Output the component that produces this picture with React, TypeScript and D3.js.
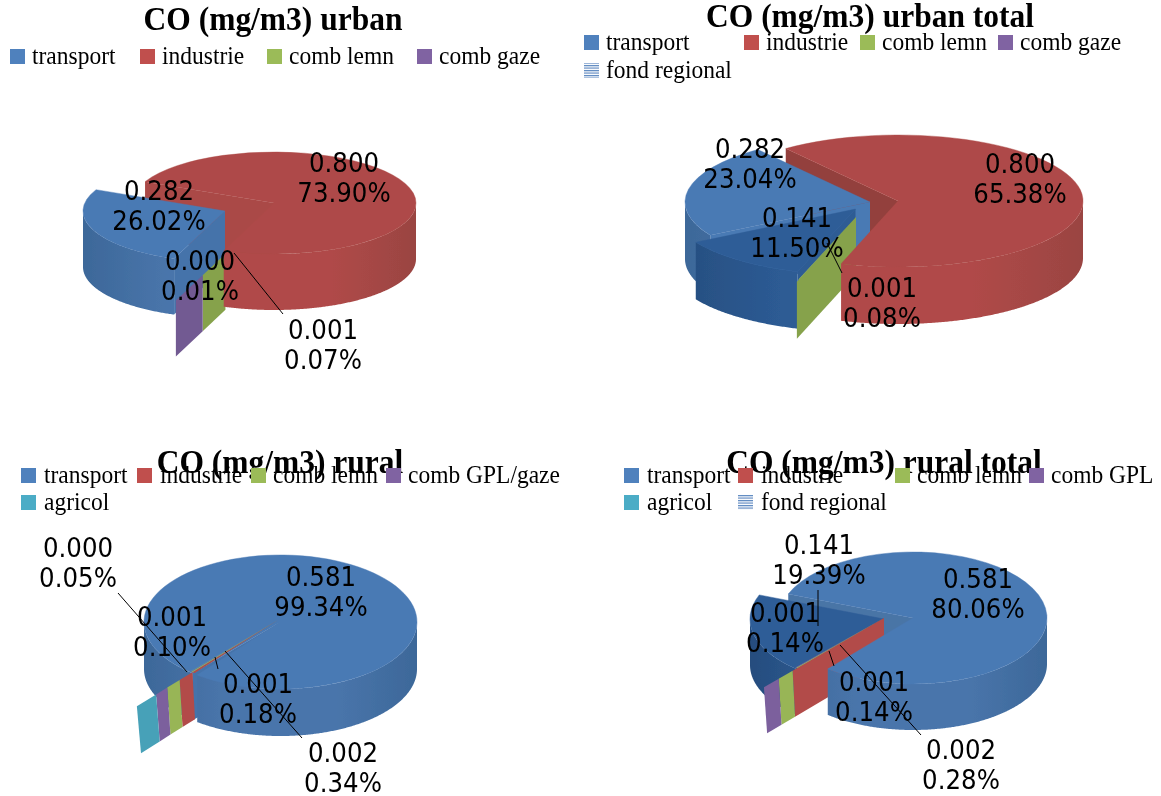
import * as d3 from 'd3';

// values, in pie order
const urbanNames = ['transport', 'industrie', 'comb lemn', 'comb gaze'];
const urbanValues = [0.282, 0.8, 0.0007, 0.0001];
const urbanPercents = ['26.02%', '73.90%', '0.07%', '0.01%'];

const urbanTotalNames = ['transport', 'industrie', 'comb lemn', 'comb gaze', 'fond regional'];
const urbanTotalValues = [0.282, 0.8, 0.001, 0.00004, 0.141];
const urbanTotalPercents = ['23.04%', '65.38%', '0.08%', '', '11.50%'];

const ruralNames = ['transport', 'industrie', 'comb lemn', 'comb GPL/gaze', 'agricol'];
const ruralValues = [0.581, 0.002, 0.001, 0.0006, 0.0003];
const ruralPercents = ['99.34%', '0.34%', '0.18%', '0.10%', '0.05%'];

const ruralTotalNames = ['transport', 'industrie', 'comb lemn', 'comb GPL', 'agricol', 'fond regional'];
const ruralTotalValues = [0.581, 0.002, 0.001, 0.001, 0, 0.141];
const ruralTotalPercents = ['80.06%', '0.28%', '0.14%', '0.14%', '', '19.39%'];

const W = 1161;
const H = 796;

// colours per series
const seriesKeys = ['transport', 'industrie', 'lemn', 'gaze', 'agricol', 'fond'];
const keyOf = (name: string) => {
  if (name === 'transport') return 'transport';
  if (name === 'industrie') return 'industrie';
  if (name === 'comb lemn') return 'lemn';
  if (name.startsWith('comb')) return 'gaze';
  if (name === 'agricol') return 'agricol';
  return 'fond';
};
const legendColor = d3.scaleOrdinal(seriesKeys, ['#4f81bd', '#c0504d', '#9bbb59', '#8064a2', '#4bacc6', '#4f81bd']);
const topColor = d3.scaleOrdinal(seriesKeys, ['#4a7ab4', '#ae4a48', '#86a24c', '#725a92', '#4197ad', '#2e5d97']);
const stripColor = d3.scaleOrdinal(seriesKeys, ['#4a7ab4', '#b24c49', '#98b557', '#7b619d', '#46a1b8', '#2e5d97']);
const wallColor = d3.scaleOrdinal(seriesKeys, ['#4975ab', '#b04a48', '#86a24c', '#725a92', '#4197ad', '#2d5b94']);
const edgeColor = d3.scaleOrdinal(seriesKeys, ['#3d6899', '#9a4442', '#6f8a3f', '#5f4a7c', '#357f92', '#264d7e']);
const radialColor = d3.scaleOrdinal(seriesKeys, ['#4473aa', '#933f3d', '#86a24c', '#725a92', '#4197ad', '#2d5b94']);

const rad = (deg: number) => (deg * Math.PI) / 180;
const deg = (r: number) => (r * 180) / Math.PI;

type SliceLook = { apex?: [number, number]; strip?: [number, number]; radial?: string };
type Chart = {
  id: string;
  title: string;
  titleAt: [number, number];
  names: string[];
  values: number[];
  percents: string[];
  start: number;
  center: [number, number];
  rx: number;
  ry: number;
  depth: number;
  lean?: number;
  bright?: boolean;
  slices: Record<number, SliceLook>;
  back: number[];
  order: number[];
  legend: [number, number, number][];
  labels: [number, number, number][];
  leaders: [number, number, number, number][];
};

const charts: Chart[] = [
  {
    id: 'a',
    title: 'CO (mg/m3) urban',
    titleAt: [273, 30],
    names: urbanNames,
    values: urbanValues,
    percents: urbanPercents,
    start: 201,
    center: [274, 203],
    rx: 142,
    ry: 51,
    depth: 56,
    slices: {
      0: { apex: [225, 211] },
      1: { radial: '#aa4846' },
      2: { apex: [274, 208], strip: [0.96, 1.41] },
      3: { apex: [274, 208], strip: [1.41, 1.94] }
    },
    back: [1],
    order: [0, 2, 3, 1],
    legend: [[10, 49, 32], [140, 49, 162], [267, 49, 289], [417, 49, 439]],
    labels: [[0, 159, 200], [1, 344, 172], [3, 200, 270], [2, 323, 339]],
    leaders: [[234, 253, 283, 314]]
  },
  {
    id: 'b',
    title: 'CO (mg/m3) urban total',
    titleAt: [870, 27],
    names: urbanTotalNames,
    values: urbanTotalValues,
    percents: urbanTotalPercents,
    start: 239.7,
    center: [898, 201],
    rx: 185,
    ry: 66,
    depth: 57,
    slices: {
      0: { apex: [870, 202], radial: '#4a7ab4' },
      4: { apex: [855.5, 209] },
      2: { apex: [856, 217], strip: [0, 1.03] }
    },
    back: [1],
    order: [0, 4, 2, 1],
    legend: [[584, 35, 606], [744, 35, 766], [860, 35, 882], [998, 35, 1020], [584, 63, 606]],
    labels: [[0, 750, 158], [1, 1020, 173], [4, 797, 227], [2, 882, 297]],
    leaders: [[827, 243, 842, 273]]
  },
  {
    id: 'c',
    title: 'CO (mg/m3) rural',
    titleAt: [280, 473],
    names: ruralNames,
    values: ruralValues,
    percents: ruralPercents,
    start: 220,
    center: [280.5, 622],
    rx: 136.5,
    ry: 67,
    depth: 47,
    lean: 2.5,
    bright: true,
    slices: {
      1: { apex: [278, 620], strip: [1.0, 1.15] },
      2: { apex: [278, 620], strip: [1.15, 1.295] },
      3: { apex: [278, 620], strip: [1.295, 1.425] },
      4: { apex: [278, 620], strip: [1.425, 1.65] }
    },
    back: [],
    order: [0, 1, 2, 3, 4],
    legend: [[21, 468, 44], [137, 468, 160], [251, 468, 273], [386, 468, 408], [21, 495, 44]],
    labels: [[4, 78, 557], [3, 172, 626], [0, 321, 586], [2, 258, 693], [1, 343, 762]],
    leaders: [[118, 593, 187, 672], [215, 657, 218, 669], [225, 651, 302, 738]]
  },
  {
    id: 'd',
    title: 'CO (mg/m3) rural total',
    titleAt: [884, 473],
    names: ruralTotalNames,
    values: ruralTotalValues,
    percents: ruralTotalPercents,
    start: 291.4,
    center: [913, 618],
    rx: 134,
    ry: 66,
    depth: 46,
    lean: 2.3,
    bright: true,
    slices: {
      0: { radial: '#4a74a6' },
      5: { apex: [884, 619] },
      1: { apex: [884, 618], strip: [0, 1.05] },
      2: { apex: [884, 618], strip: [1.05, 1.21] },
      3: { apex: [884, 618], strip: [1.21, 1.38] }
    },
    back: [0],
    order: [5, 1, 2, 3, 0],
    legend: [[624, 468, 647], [738, 468, 761], [895, 468, 917], [1029, 468, 1051], [624, 495, 647], [738, 495, 761]],
    labels: [[5, 819, 554], [3, 785, 622], [0, 978, 588], [2, 874, 691], [1, 961, 759]],
    leaders: [[818, 590, 818, 626], [829, 651, 834, 666], [840, 645, 921, 735]]
  }
];

const line = d3.line();

// the source image is stretched upwards, so the text is too
const stretched = (x: number, y: number, k: number) => `translate(${x},${y}) scale(1,${k})`;

function Pie({ chart }: { chart: Chart }) {
  const { rx, ry, depth, center } = chart;
  const pie = d3
    .pie<number>()
    .sort(null)
    .startAngle(rad(chart.start))
    .endAngle(rad(chart.start + 360));
  const arcs = pie(chart.values);
  const keys = chart.names.map(keyOf);
  const top = d3.arc();

  const apexOf = (i: number) => chart.slices[i]?.apex ?? center;
  const at = (i: number, a: number, f = 1): [number, number] => {
    const p = apexOf(i);
    return [p[0] + rx * f * Math.sin(a), p[1] - ry * f * Math.cos(a)];
  };
  const down = (p: [number, number], shift = 0): [number, number] => [p[0] + shift, p[1] + depth];
  const quad = (a: [number, number], b: [number, number], sa = 0, sb = 0) =>
    line([a, b, down(b, sb), down(a, sa)]) + 'Z';

  // all the strips of a chart lie along one cut line
  const stripIds = chart.order.filter((i) => chart.slices[i]?.strip);
  const stripAngle = stripIds.length
    ? (d3.min(stripIds, (i) => arcs[i].startAngle)! + d3.max(stripIds, (i) => arcs[i].endAngle)!) / 2
    : 0;

  // radial face at the start edge of a slice
  const radial = (i: number) => (
    <path
      key={`r${i}`}
      d={quad(apexOf(i), at(i, arcs[i].startAngle))}
      fill={chart.slices[i]?.radial ?? radialColor(keys[i])}
    />
  );

  // rim wall, only the part that faces the viewer
  const rim = (i: number) => {
    const runs: number[][] = [];
    let run: number[] = [];
    const a0 = deg(arcs[i].startAngle);
    const a1 = deg(arcs[i].endAngle);
    d3.range(a0, a1, 0.5)
      .concat(a1)
      .forEach((d) => {
        const m = ((d % 360) + 360) % 360;
        if (m >= 90 && m <= 270) run.push(d);
        else if (run.length) {
          runs.push(run);
          run = [];
        }
      });
    if (run.length) runs.push(run);
    return runs
      .filter((r) => r.length > 1)
      .map((r, n) => {
        const upper = r.map((d) => at(i, rad(d)));
        const lower = upper.map((p) => down(p)).reverse();
        return <path key={`w${i}-${n}`} d={line(upper.concat(lower)) + 'Z'} fill={`url(#${chart.id}-${i})`} />;
      });
  };

  const face = (i: number) => {
    const p = apexOf(i);
    const thin = !!chart.slices[i]?.strip;
    const fill = thin ? stripColor(keys[i]) : topColor(keys[i]);
    return (
      <path
        key={`t${i}`}
        transform={`translate(${p[0]},${p[1]}) scale(1,${ry / rx})`}
        fill={fill}
        stroke={thin ? 'none' : fill}
        strokeWidth={0.6}
        d={
          top({
            innerRadius: 0,
            outerRadius: rx,
            startAngle: arcs[i].startAngle,
            endAngle: arcs[i].endAngle
          }) as string
        }
      />
    );
  };

  // very thin slices only show as a strip of their cut face
  const strip = (i: number, range: [number, number]) => {
    const lean = chart.lean ?? 0;
    return (
      <g key={`s${i}`}>
        <path
          d={quad(at(i, stripAngle, range[0]), at(i, stripAngle, range[1]), lean * range[0], lean * range[1])}
          fill={chart.bright ? stripColor(keys[i]) : topColor(keys[i])}
        />
        {face(i)}
      </g>
    );
  };

  return (
    <g>
      <defs>
        {keys.map((k, i) => (
          <linearGradient
            key={i}
            id={`${chart.id}-${i}`}
            gradientUnits="userSpaceOnUse"
            x1={apexOf(i)[0] - rx}
            x2={apexOf(i)[0] + rx}
            y1={0}
            y2={0}
          >
            <stop offset="0" stopColor={edgeColor(k)} />
            <stop offset="0.3" stopColor={wallColor(k)} />
            <stop offset="0.7" stopColor={wallColor(k)} />
            <stop offset="1" stopColor={edgeColor(k)} />
          </linearGradient>
        ))}
      </defs>

      {chart.back.map(radial)}
      {chart.order.map((i) => {
        const look = chart.slices[i];
        if (look?.strip) return strip(i, look.strip);
        return (
          <g key={`b${i}`}>
            {chart.back.includes(i) ? null : radial(i)}
            {rim(i)}
            {face(i)}
          </g>
        );
      })}

      {chart.leaders.map((l, i) => (
        <line key={i} x1={l[0]} y1={l[1]} x2={l[2]} y2={l[3]} stroke="#000" strokeWidth={1} />
      ))}

      <text
        transform={stretched(chart.titleAt[0], chart.titleAt[1], 1.08)}
        textAnchor="middle"
        fontFamily="'Liberation Serif'"
        fontWeight="bold"
        fontSize={31.5}
      >
        {chart.title}
      </text>

      {chart.names.map((name, i) => {
        const [sx, sy, tx] = chart.legend[i];
        return (
          <g key={name}>
            <rect
              x={sx}
              y={sy}
              width={15}
              height={15}
              fill={keyOf(name) === 'fond' ? 'url(#stripes)' : legendColor(keyOf(name))}
            />
            <text transform={stretched(tx, sy + 15, 1.1)} fontFamily="'Liberation Serif'" fontSize={23.5}>
              {name}
            </text>
          </g>
        );
      })}

      {chart.labels.map(([i, x, y]) => (
        <g key={i} fontFamily="'DejaVu Sans'" fontSize={24.5} fill="#000" textAnchor="middle">
          <text transform={stretched(x, y, 1.11)}>{chart.values[i].toFixed(3)}</text>
          <text transform={stretched(x, y + 30, 1.11)}>{chart.percents[i]}</text>
        </g>
      ))}
    </g>
  );
}

export default function App() {
  return (
    <svg width={W} height={H} viewBox={`0 0 ${W} ${H}`} style={{ position: 'absolute', left: 0, top: 0, background: '#fff' }}>
      <defs>
        <pattern id="stripes" patternUnits="userSpaceOnUse" width={15} height={2.5}>
          <rect width={15} height={1.2} fill="#5b87c0" />
        </pattern>
        <filter id="soft" x="0" y="0" width="100%" height="100%">
          <feGaussianBlur stdDeviation="0.4" />
        </filter>
      </defs>
      <g filter="url(#soft)">
        {charts.map((c) => (
          <Pie key={c.id} chart={c} />
        ))}
      </g>
    </svg>
  );
}
